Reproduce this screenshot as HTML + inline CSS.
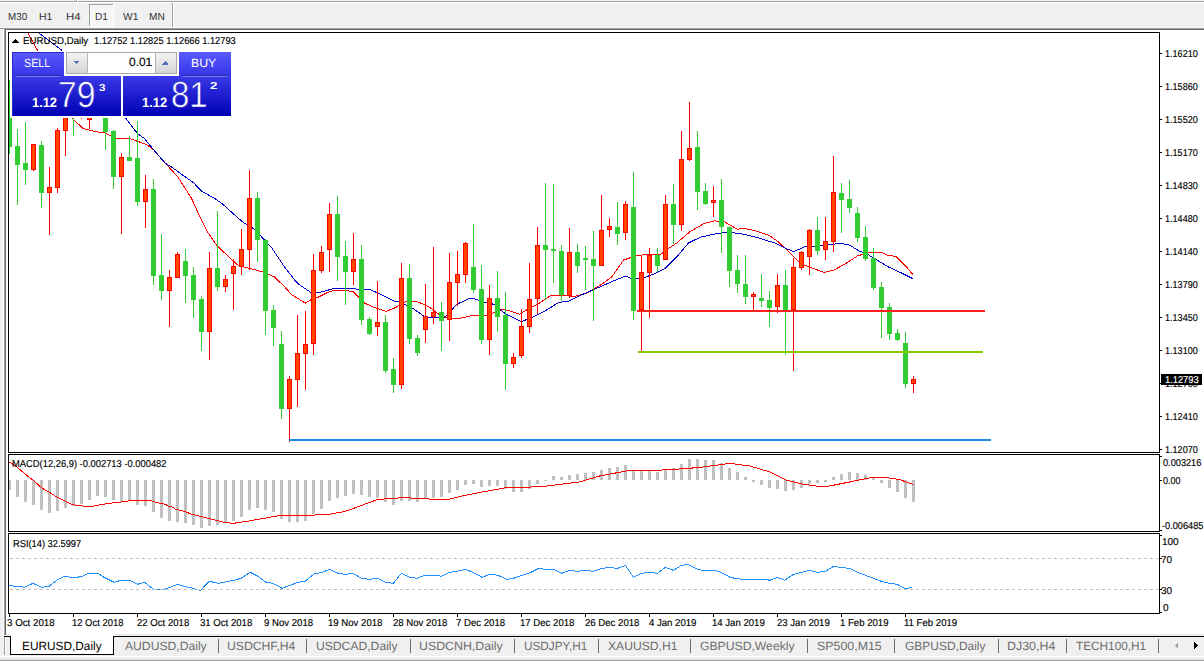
<!DOCTYPE html>
<html><head><meta charset="utf-8"><style>
html,body{margin:0;padding:0;}
body{width:1204px;height:663px;overflow:hidden;background:#f0f0f0;position:relative;font-family:"Liberation Sans",sans-serif;}
svg{position:absolute;left:0;top:0;}
.t{position:absolute;white-space:nowrap;line-height:1;transform-origin:0 0;text-rendering:geometricPrecision;}
.k{-webkit-text-stroke:0.15px currentColor;}
.thin{-webkit-text-stroke:0.6px #2424cc;}
</style></head><body>
<svg width="1204" height="663" viewBox="0 0 1204 663" shape-rendering="crispEdges">
<rect x="0" y="1" width="1204" height="1" fill="#a0a0a0"/>
<rect x="0" y="2" width="1204" height="1" fill="#ffffff"/>
<rect x="76" y="0" width="1" height="2" fill="#a0a0a0"/>
<rect x="77" y="0" width="1" height="2" fill="#ffffff"/>
<defs><pattern id="chk" x="0" y="0" width="2" height="2" patternUnits="userSpaceOnUse"><rect width="2" height="2" fill="#ffffff"/><rect x="1" y="0" width="1" height="1" fill="#ededed"/><rect x="0" y="1" width="1" height="1" fill="#ededed"/></pattern></defs>
<rect x="89" y="4" width="25" height="22" fill="url(#chk)"/>
<rect x="89" y="4" width="25" height="1" fill="#a0a0a0"/>
<rect x="89" y="4" width="1" height="22" fill="#a0a0a0"/>
<rect x="113" y="4" width="1" height="22" fill="#ffffff"/>
<rect x="89" y="26" width="25" height="1" fill="#ffffff"/>
<rect x="172" y="3" width="1" height="25" fill="#a0a0a0"/>
<rect x="173" y="3" width="1" height="25" fill="#ffffff"/>
<rect x="0" y="27" width="1204" height="1" fill="#f6f6f6"/>
<rect x="0" y="28" width="1204" height="1" fill="#a0a0a0"/>
<rect x="4" y="29" width="1200" height="1" fill="#696969"/>
<rect x="3" y="29" width="1" height="606" fill="#ffffff"/>
<rect x="4" y="28" width="1" height="607" fill="#a0a0a0"/>
<rect x="5" y="29" width="1" height="606" fill="#696969"/>
<rect x="6" y="30" width="1198" height="604" fill="#ffffff"/>
<rect x="6" y="634" width="1198" height="1" fill="#e3e3e3"/>
<rect x="8" y="32" width="1152" height="1" fill="#000"/><rect x="8" y="452" width="1152" height="1" fill="#000"/><rect x="8" y="32" width="1" height="421" fill="#000"/><rect x="1159" y="32" width="1" height="421" fill="#000"/>
<rect x="8" y="454" width="1152" height="1" fill="#000"/><rect x="8" y="531" width="1152" height="1" fill="#000"/><rect x="8" y="454" width="1" height="78" fill="#000"/><rect x="1159" y="454" width="1" height="78" fill="#000"/>
<rect x="8" y="533" width="1152" height="1" fill="#000"/><rect x="8" y="613" width="1152" height="1" fill="#000"/><rect x="8" y="533" width="1" height="81" fill="#000"/><rect x="1159" y="533" width="1" height="81" fill="#000"/>
<rect x="1160" y="53" width="2" height="1" fill="#000"/>
<rect x="1160" y="86" width="2" height="1" fill="#000"/>
<rect x="1160" y="119" width="2" height="1" fill="#000"/>
<rect x="1160" y="152" width="2" height="1" fill="#000"/>
<rect x="1160" y="185" width="2" height="1" fill="#000"/>
<rect x="1160" y="218" width="2" height="1" fill="#000"/>
<rect x="1160" y="251" width="2" height="1" fill="#000"/>
<rect x="1160" y="284" width="2" height="1" fill="#000"/>
<rect x="1160" y="317" width="2" height="1" fill="#000"/>
<rect x="1160" y="350" width="2" height="1" fill="#000"/>
<rect x="1160" y="383" width="2" height="1" fill="#000"/>
<rect x="1160" y="416" width="2" height="1" fill="#000"/>
<rect x="1160" y="449" width="2" height="1" fill="#000"/>
<rect x="1160" y="456" width="2" height="1" fill="#000"/>
<rect x="1160" y="480" width="2" height="1" fill="#000"/>
<rect x="1160" y="530" width="2" height="1" fill="#000"/>
<rect x="1160" y="535" width="2" height="1" fill="#000"/>
<rect x="1160" y="558" width="2" height="1" fill="#000"/>
<rect x="1160" y="589" width="2" height="1" fill="#000"/>
<rect x="1160" y="612" width="2" height="1" fill="#000"/>
<rect x="9" y="614" width="1" height="3" fill="#000"/>
<rect x="73" y="614" width="1" height="3" fill="#000"/>
<rect x="137" y="614" width="1" height="3" fill="#000"/>
<rect x="201" y="614" width="1" height="3" fill="#000"/>
<rect x="265" y="614" width="1" height="3" fill="#000"/>
<rect x="329" y="614" width="1" height="3" fill="#000"/>
<rect x="393" y="614" width="1" height="3" fill="#000"/>
<rect x="457" y="614" width="1" height="3" fill="#000"/>
<rect x="521" y="614" width="1" height="3" fill="#000"/>
<rect x="585" y="614" width="1" height="3" fill="#000"/>
<rect x="649" y="614" width="1" height="3" fill="#000"/>
<rect x="713" y="614" width="1" height="3" fill="#000"/>
<rect x="777" y="614" width="1" height="3" fill="#000"/>
<rect x="841" y="614" width="1" height="3" fill="#000"/>
<rect x="905" y="614" width="1" height="3" fill="#000"/>
<defs><clipPath id="cm"><rect x="9" y="33" width="1150" height="419"/></clipPath><clipPath id="cd"><rect x="9" y="455" width="1150" height="76"/></clipPath><clipPath id="cr"><rect x="9" y="534" width="1150" height="79"/></clipPath></defs>
<g clip-path="url(#cm)">
<polyline points="28.0,33.0 36.9,49.4 55.0,85.0 71.7,118.0 83.4,128.7 95.0,131.6 105.0,133.0 116.8,138.5 124.8,138.5 130.7,139.0 146.4,144.4 154.2,150.3 166.0,164.0 177.7,176.7 191.5,198.3 201.3,219.9 207.2,231.6 217.0,245.7 232.6,260.4 238.7,265.9 246.6,267.5 262.3,271.8 274.0,276.7 283.8,285.9 291.7,294.7 305.4,303.1 311.3,299.6 317.2,297.6 327.0,292.7 334.8,290.2 352.6,291.2 364.4,303.0 374.2,307.5 386.0,311.4 395.8,307.5 405.6,301.6 417.4,301.6 429.0,306.9 440.9,315.7 450.7,318.6 456.8,319.0 472.5,315.5 486.2,315.5 503.8,309.2 519.5,314.1 531.3,307.3 539.0,303.3 550.9,295.5 560.7,295.5 574.6,296.3 586.4,293.3 600.0,285.5 611.9,276.7 623.6,260.0 637.4,255.3 647.2,254.7 660.9,254.3 665.0,250.9 676.8,243.0 690.5,231.3 704.2,223.4 714.0,220.9 723.8,221.5 737.5,229.3 743.4,228.3 755.2,230.7 768.9,235.2 778.7,242.1 786.8,250.0 800.5,263.7 810.3,267.3 824.0,272.5 833.8,270.0 845.6,263.7 857.4,255.9 869.5,252.4 882.2,252.4 887.5,255.1 895.9,256.6 906.5,267.0 912.8,274.6" fill="none" stroke="#ff0000" stroke-width="1" stroke-linejoin="round"/>
<polyline points="38.9,33.0 60.8,49.4 93.0,84.0 125.8,118.3 137.5,133.6 144.4,138.5 153.2,149.3 165.0,163.0 171.9,167.3 185.6,177.1 193.4,182.6 201.3,190.9 215.0,198.7 222.8,204.2 236.8,216.9 243.6,222.7 253.4,228.6 260.3,235.5 272.0,248.2 283.8,265.9 294.6,280.0 299.5,284.9 311.3,292.7 319.0,292.7 332.8,288.8 345.0,288.8 350.7,288.6 358.5,289.2 370.3,289.6 380.0,294.0 393.8,301.0 399.7,302.0 413.4,308.8 423.2,315.7 429.0,317.3 444.8,317.3 456.8,304.3 468.5,298.8 474.4,298.8 484.2,302.4 494.0,304.3 505.8,314.1 521.5,321.6 533.2,317.0 547.0,309.8 558.7,302.4 568.7,301.2 580.5,295.3 594.2,289.4 611.9,281.6 625.6,276.1 633.4,279.2 645.2,277.3 657.0,272.7 664.8,268.8 676.8,256.8 688.5,243.0 700.3,237.2 714.0,234.2 727.7,231.9 743.4,234.2 759.1,238.1 774.8,243.0 784.8,248.0 793.6,251.6 804.4,247.0 814.2,246.1 833.8,244.1 841.7,243.5 849.5,245.1 859.3,251.0 868.4,254.8 876.9,260.1 888.5,267.0 902.2,273.3 912.8,278.6" fill="none" stroke="#0000cd" stroke-width="1" stroke-linejoin="round"/>
<rect x="9" y="80" width="1" height="74" fill="#32cd32"/>
<rect x="7" y="118" width="5" height="29" fill="#32cd32"/>
<rect x="17" y="129" width="1" height="76" fill="#32cd32"/>
<rect x="15" y="146" width="5" height="19" fill="#32cd32"/>
<rect x="25" y="122" width="1" height="63" fill="#32cd32"/>
<rect x="23" y="163" width="5" height="7" fill="#32cd32"/>
<rect x="33" y="144" width="1" height="27" fill="#ff0000"/>
<rect x="31" y="144" width="5" height="26" fill="#ff0000"/>
<rect x="32" y="145" width="3" height="24" fill="#ff4500"/>
<rect x="41" y="141" width="1" height="67" fill="#32cd32"/>
<rect x="39" y="145" width="5" height="48" fill="#32cd32"/>
<rect x="49" y="167" width="1" height="68" fill="#ff0000"/>
<rect x="47" y="187" width="5" height="6" fill="#ff0000"/>
<rect x="48" y="188" width="3" height="4" fill="#ff4500"/>
<rect x="57" y="128" width="1" height="65" fill="#ff0000"/>
<rect x="55" y="130" width="5" height="58" fill="#ff0000"/>
<rect x="56" y="131" width="3" height="56" fill="#ff4500"/>
<rect x="65" y="100" width="1" height="56" fill="#ff0000"/>
<rect x="63" y="110" width="5" height="21" fill="#ff0000"/>
<rect x="64" y="111" width="3" height="19" fill="#ff4500"/>
<rect x="73" y="95" width="1" height="41" fill="#32cd32"/>
<rect x="71" y="100" width="5" height="15" fill="#32cd32"/>
<rect x="81" y="105" width="1" height="14" fill="#ff0000"/>
<rect x="79" y="110" width="5" height="6" fill="#ff0000"/>
<rect x="80" y="111" width="3" height="4" fill="#ff4500"/>
<rect x="89" y="105" width="1" height="24" fill="#ff0000"/>
<rect x="87" y="110" width="5" height="10" fill="#ff0000"/>
<rect x="88" y="111" width="3" height="8" fill="#ff4500"/>
<rect x="97" y="90" width="1" height="20" fill="#32cd32"/>
<rect x="95" y="95" width="5" height="10" fill="#32cd32"/>
<rect x="105" y="100" width="1" height="50" fill="#32cd32"/>
<rect x="103" y="110" width="5" height="22" fill="#32cd32"/>
<rect x="113" y="130" width="1" height="59" fill="#32cd32"/>
<rect x="111" y="131" width="5" height="46" fill="#32cd32"/>
<rect x="121" y="153" width="1" height="81" fill="#ff0000"/>
<rect x="119" y="157" width="5" height="20" fill="#ff0000"/>
<rect x="120" y="158" width="3" height="18" fill="#ff4500"/>
<rect x="129" y="136" width="1" height="25" fill="#32cd32"/>
<rect x="127" y="157" width="5" height="4" fill="#32cd32"/>
<rect x="137" y="121" width="1" height="85" fill="#32cd32"/>
<rect x="135" y="158" width="5" height="44" fill="#32cd32"/>
<rect x="145" y="175" width="1" height="53" fill="#ff0000"/>
<rect x="143" y="189" width="5" height="13" fill="#ff0000"/>
<rect x="144" y="190" width="3" height="11" fill="#ff4500"/>
<rect x="153" y="179" width="1" height="106" fill="#32cd32"/>
<rect x="151" y="189" width="5" height="87" fill="#32cd32"/>
<rect x="161" y="234" width="1" height="66" fill="#32cd32"/>
<rect x="159" y="275" width="5" height="16" fill="#32cd32"/>
<rect x="169" y="270" width="1" height="57" fill="#ff0000"/>
<rect x="167" y="277" width="5" height="14" fill="#ff0000"/>
<rect x="168" y="278" width="3" height="12" fill="#ff4500"/>
<rect x="177" y="252" width="1" height="26" fill="#ff0000"/>
<rect x="175" y="254" width="5" height="24" fill="#ff0000"/>
<rect x="176" y="255" width="3" height="22" fill="#ff4500"/>
<rect x="185" y="249" width="1" height="54" fill="#32cd32"/>
<rect x="183" y="261" width="5" height="15" fill="#32cd32"/>
<rect x="193" y="267" width="1" height="51" fill="#32cd32"/>
<rect x="191" y="275" width="5" height="25" fill="#32cd32"/>
<rect x="201" y="296" width="1" height="55" fill="#32cd32"/>
<rect x="199" y="299" width="5" height="33" fill="#32cd32"/>
<rect x="209" y="252" width="1" height="108" fill="#ff0000"/>
<rect x="207" y="268" width="5" height="64" fill="#ff0000"/>
<rect x="208" y="269" width="3" height="62" fill="#ff4500"/>
<rect x="217" y="211" width="1" height="80" fill="#32cd32"/>
<rect x="215" y="268" width="5" height="19" fill="#32cd32"/>
<rect x="225" y="275" width="1" height="17" fill="#ff0000"/>
<rect x="223" y="279" width="5" height="8" fill="#ff0000"/>
<rect x="224" y="280" width="3" height="6" fill="#ff4500"/>
<rect x="233" y="259" width="1" height="51" fill="#ff0000"/>
<rect x="231" y="266" width="5" height="8" fill="#ff0000"/>
<rect x="232" y="267" width="3" height="6" fill="#ff4500"/>
<rect x="241" y="229" width="1" height="46" fill="#ff0000"/>
<rect x="239" y="249" width="5" height="18" fill="#ff0000"/>
<rect x="240" y="250" width="3" height="16" fill="#ff4500"/>
<rect x="249" y="170" width="1" height="100" fill="#ff0000"/>
<rect x="247" y="198" width="5" height="52" fill="#ff0000"/>
<rect x="248" y="199" width="3" height="50" fill="#ff4500"/>
<rect x="257" y="192" width="1" height="70" fill="#32cd32"/>
<rect x="255" y="198" width="5" height="42" fill="#32cd32"/>
<rect x="265" y="239" width="1" height="96" fill="#32cd32"/>
<rect x="263" y="240" width="5" height="71" fill="#32cd32"/>
<rect x="273" y="305" width="1" height="41" fill="#32cd32"/>
<rect x="271" y="310" width="5" height="18" fill="#32cd32"/>
<rect x="281" y="331" width="1" height="88" fill="#32cd32"/>
<rect x="279" y="344" width="5" height="65" fill="#32cd32"/>
<rect x="289" y="376" width="1" height="66" fill="#ff0000"/>
<rect x="287" y="379" width="5" height="30" fill="#ff0000"/>
<rect x="288" y="380" width="3" height="28" fill="#ff4500"/>
<rect x="297" y="315" width="1" height="92" fill="#ff0000"/>
<rect x="295" y="353" width="5" height="27" fill="#ff0000"/>
<rect x="296" y="354" width="3" height="25" fill="#ff4500"/>
<rect x="305" y="311" width="1" height="79" fill="#ff0000"/>
<rect x="303" y="344" width="5" height="10" fill="#ff0000"/>
<rect x="304" y="345" width="3" height="8" fill="#ff4500"/>
<rect x="313" y="254" width="1" height="101" fill="#ff0000"/>
<rect x="311" y="270" width="5" height="74" fill="#ff0000"/>
<rect x="312" y="271" width="3" height="72" fill="#ff4500"/>
<rect x="321" y="246" width="1" height="27" fill="#ff0000"/>
<rect x="319" y="252" width="5" height="19" fill="#ff0000"/>
<rect x="320" y="253" width="3" height="17" fill="#ff4500"/>
<rect x="329" y="203" width="1" height="69" fill="#ff0000"/>
<rect x="327" y="214" width="5" height="36" fill="#ff0000"/>
<rect x="328" y="215" width="3" height="34" fill="#ff4500"/>
<rect x="337" y="196" width="1" height="85" fill="#32cd32"/>
<rect x="335" y="214" width="5" height="43" fill="#32cd32"/>
<rect x="345" y="241" width="1" height="64" fill="#32cd32"/>
<rect x="343" y="256" width="5" height="16" fill="#32cd32"/>
<rect x="353" y="233" width="1" height="52" fill="#ff0000"/>
<rect x="351" y="259" width="5" height="13" fill="#ff0000"/>
<rect x="352" y="260" width="3" height="11" fill="#ff4500"/>
<rect x="361" y="245" width="1" height="80" fill="#32cd32"/>
<rect x="359" y="259" width="5" height="61" fill="#32cd32"/>
<rect x="369" y="317" width="1" height="18" fill="#32cd32"/>
<rect x="367" y="319" width="5" height="15" fill="#32cd32"/>
<rect x="377" y="281" width="1" height="55" fill="#ff0000"/>
<rect x="375" y="322" width="5" height="5" fill="#ff0000"/>
<rect x="376" y="323" width="3" height="3" fill="#ff4500"/>
<rect x="385" y="315" width="1" height="58" fill="#32cd32"/>
<rect x="383" y="322" width="5" height="49" fill="#32cd32"/>
<rect x="393" y="358" width="1" height="35" fill="#32cd32"/>
<rect x="391" y="369" width="5" height="16" fill="#32cd32"/>
<rect x="401" y="263" width="1" height="126" fill="#ff0000"/>
<rect x="399" y="278" width="5" height="107" fill="#ff0000"/>
<rect x="400" y="279" width="3" height="105" fill="#ff4500"/>
<rect x="409" y="264" width="1" height="80" fill="#32cd32"/>
<rect x="407" y="278" width="5" height="61" fill="#32cd32"/>
<rect x="417" y="335" width="1" height="21" fill="#32cd32"/>
<rect x="415" y="338" width="5" height="15" fill="#32cd32"/>
<rect x="425" y="284" width="1" height="59" fill="#ff0000"/>
<rect x="423" y="316" width="5" height="14" fill="#ff0000"/>
<rect x="424" y="317" width="3" height="12" fill="#ff4500"/>
<rect x="433" y="247" width="1" height="77" fill="#ff0000"/>
<rect x="431" y="312" width="5" height="5" fill="#ff0000"/>
<rect x="432" y="313" width="3" height="3" fill="#ff4500"/>
<rect x="441" y="302" width="1" height="49" fill="#32cd32"/>
<rect x="439" y="312" width="5" height="9" fill="#32cd32"/>
<rect x="449" y="253" width="1" height="88" fill="#ff0000"/>
<rect x="447" y="282" width="5" height="38" fill="#ff0000"/>
<rect x="448" y="283" width="3" height="36" fill="#ff4500"/>
<rect x="457" y="251" width="1" height="55" fill="#ff0000"/>
<rect x="455" y="274" width="5" height="9" fill="#ff0000"/>
<rect x="456" y="275" width="3" height="7" fill="#ff4500"/>
<rect x="465" y="242" width="1" height="41" fill="#ff0000"/>
<rect x="463" y="243" width="5" height="32" fill="#ff0000"/>
<rect x="464" y="244" width="3" height="30" fill="#ff4500"/>
<rect x="473" y="224" width="1" height="69" fill="#32cd32"/>
<rect x="471" y="267" width="5" height="23" fill="#32cd32"/>
<rect x="481" y="265" width="1" height="79" fill="#32cd32"/>
<rect x="479" y="289" width="5" height="51" fill="#32cd32"/>
<rect x="489" y="285" width="1" height="70" fill="#ff0000"/>
<rect x="487" y="298" width="5" height="42" fill="#ff0000"/>
<rect x="488" y="299" width="3" height="40" fill="#ff4500"/>
<rect x="497" y="271" width="1" height="61" fill="#32cd32"/>
<rect x="495" y="298" width="5" height="19" fill="#32cd32"/>
<rect x="505" y="292" width="1" height="98" fill="#32cd32"/>
<rect x="503" y="315" width="5" height="49" fill="#32cd32"/>
<rect x="513" y="353" width="1" height="15" fill="#ff0000"/>
<rect x="511" y="357" width="5" height="7" fill="#ff0000"/>
<rect x="512" y="358" width="3" height="5" fill="#ff4500"/>
<rect x="521" y="309" width="1" height="49" fill="#ff0000"/>
<rect x="519" y="326" width="5" height="30" fill="#ff0000"/>
<rect x="520" y="327" width="3" height="28" fill="#ff4500"/>
<rect x="529" y="263" width="1" height="70" fill="#ff0000"/>
<rect x="527" y="299" width="5" height="28" fill="#ff0000"/>
<rect x="528" y="300" width="3" height="26" fill="#ff4500"/>
<rect x="537" y="227" width="1" height="87" fill="#ff0000"/>
<rect x="535" y="245" width="5" height="54" fill="#ff0000"/>
<rect x="536" y="246" width="3" height="52" fill="#ff4500"/>
<rect x="545" y="183" width="1" height="117" fill="#32cd32"/>
<rect x="543" y="245" width="5" height="5" fill="#32cd32"/>
<rect x="553" y="184" width="1" height="99" fill="#32cd32"/>
<rect x="551" y="249" width="5" height="2" fill="#32cd32"/>
<rect x="561" y="245" width="1" height="56" fill="#32cd32"/>
<rect x="559" y="251" width="5" height="44" fill="#32cd32"/>
<rect x="569" y="228" width="1" height="70" fill="#ff0000"/>
<rect x="567" y="252" width="5" height="44" fill="#ff0000"/>
<rect x="568" y="253" width="3" height="42" fill="#ff4500"/>
<rect x="577" y="244" width="1" height="29" fill="#32cd32"/>
<rect x="575" y="252" width="5" height="14" fill="#32cd32"/>
<rect x="585" y="246" width="1" height="44" fill="#32cd32"/>
<rect x="583" y="258" width="5" height="2" fill="#32cd32"/>
<rect x="593" y="231" width="1" height="90" fill="#32cd32"/>
<rect x="591" y="259" width="5" height="7" fill="#32cd32"/>
<rect x="601" y="195" width="1" height="71" fill="#ff0000"/>
<rect x="599" y="230" width="5" height="36" fill="#ff0000"/>
<rect x="600" y="231" width="3" height="34" fill="#ff4500"/>
<rect x="609" y="218" width="1" height="19" fill="#ff0000"/>
<rect x="607" y="226" width="5" height="4" fill="#ff0000"/>
<rect x="608" y="227" width="3" height="2" fill="#ff4500"/>
<rect x="617" y="202" width="1" height="43" fill="#32cd32"/>
<rect x="615" y="227" width="5" height="7" fill="#32cd32"/>
<rect x="625" y="201" width="1" height="39" fill="#ff0000"/>
<rect x="623" y="204" width="5" height="29" fill="#ff0000"/>
<rect x="624" y="205" width="3" height="27" fill="#ff4500"/>
<rect x="633" y="172" width="1" height="148" fill="#32cd32"/>
<rect x="631" y="207" width="5" height="104" fill="#32cd32"/>
<rect x="641" y="256" width="1" height="96" fill="#ff0000"/>
<rect x="639" y="272" width="5" height="38" fill="#ff0000"/>
<rect x="640" y="273" width="3" height="36" fill="#ff4500"/>
<rect x="649" y="248" width="1" height="70" fill="#ff0000"/>
<rect x="647" y="255" width="5" height="18" fill="#ff0000"/>
<rect x="648" y="256" width="3" height="16" fill="#ff4500"/>
<rect x="657" y="248" width="1" height="24" fill="#32cd32"/>
<rect x="655" y="255" width="5" height="11" fill="#32cd32"/>
<rect x="665" y="195" width="1" height="65" fill="#ff0000"/>
<rect x="663" y="204" width="5" height="56" fill="#ff0000"/>
<rect x="664" y="205" width="3" height="54" fill="#ff4500"/>
<rect x="673" y="184" width="1" height="60" fill="#32cd32"/>
<rect x="671" y="204" width="5" height="21" fill="#32cd32"/>
<rect x="681" y="131" width="1" height="100" fill="#ff0000"/>
<rect x="679" y="159" width="5" height="66" fill="#ff0000"/>
<rect x="680" y="160" width="3" height="64" fill="#ff4500"/>
<rect x="689" y="102" width="1" height="59" fill="#ff0000"/>
<rect x="687" y="148" width="5" height="12" fill="#ff0000"/>
<rect x="688" y="149" width="3" height="10" fill="#ff4500"/>
<rect x="697" y="131" width="1" height="79" fill="#32cd32"/>
<rect x="695" y="147" width="5" height="45" fill="#32cd32"/>
<rect x="705" y="183" width="1" height="22" fill="#32cd32"/>
<rect x="703" y="191" width="5" height="13" fill="#32cd32"/>
<rect x="713" y="186" width="1" height="31" fill="#ff0000"/>
<rect x="711" y="200" width="5" height="3" fill="#ff0000"/>
<rect x="712" y="201" width="3" height="1" fill="#ff4500"/>
<rect x="721" y="179" width="1" height="74" fill="#32cd32"/>
<rect x="719" y="200" width="5" height="27" fill="#32cd32"/>
<rect x="729" y="227" width="1" height="60" fill="#32cd32"/>
<rect x="727" y="227" width="5" height="44" fill="#32cd32"/>
<rect x="737" y="255" width="1" height="38" fill="#32cd32"/>
<rect x="735" y="270" width="5" height="14" fill="#32cd32"/>
<rect x="745" y="255" width="1" height="49" fill="#32cd32"/>
<rect x="743" y="284" width="5" height="13" fill="#32cd32"/>
<rect x="753" y="292" width="1" height="18" fill="#ff0000"/>
<rect x="751" y="294" width="5" height="3" fill="#ff0000"/>
<rect x="752" y="295" width="3" height="1" fill="#ff4500"/>
<rect x="761" y="274" width="1" height="33" fill="#32cd32"/>
<rect x="759" y="298" width="5" height="3" fill="#32cd32"/>
<rect x="769" y="291" width="1" height="36" fill="#32cd32"/>
<rect x="767" y="300" width="5" height="8" fill="#32cd32"/>
<rect x="777" y="274" width="1" height="39" fill="#ff0000"/>
<rect x="775" y="285" width="5" height="22" fill="#ff0000"/>
<rect x="776" y="286" width="3" height="20" fill="#ff4500"/>
<rect x="785" y="270" width="1" height="85" fill="#32cd32"/>
<rect x="783" y="285" width="5" height="25" fill="#32cd32"/>
<rect x="793" y="258" width="1" height="113" fill="#ff0000"/>
<rect x="791" y="267" width="5" height="43" fill="#ff0000"/>
<rect x="792" y="268" width="3" height="41" fill="#ff4500"/>
<rect x="801" y="251" width="1" height="19" fill="#ff0000"/>
<rect x="799" y="252" width="5" height="16" fill="#ff0000"/>
<rect x="800" y="253" width="3" height="14" fill="#ff4500"/>
<rect x="809" y="229" width="1" height="46" fill="#ff0000"/>
<rect x="807" y="230" width="5" height="27" fill="#ff0000"/>
<rect x="808" y="231" width="3" height="25" fill="#ff4500"/>
<rect x="817" y="217" width="1" height="38" fill="#32cd32"/>
<rect x="815" y="230" width="5" height="21" fill="#32cd32"/>
<rect x="825" y="217" width="1" height="43" fill="#ff0000"/>
<rect x="823" y="241" width="5" height="9" fill="#ff0000"/>
<rect x="824" y="242" width="3" height="7" fill="#ff4500"/>
<rect x="833" y="156" width="1" height="96" fill="#ff0000"/>
<rect x="831" y="192" width="5" height="50" fill="#ff0000"/>
<rect x="832" y="193" width="3" height="48" fill="#ff4500"/>
<rect x="841" y="183" width="1" height="50" fill="#32cd32"/>
<rect x="839" y="193" width="5" height="7" fill="#32cd32"/>
<rect x="849" y="180" width="1" height="33" fill="#32cd32"/>
<rect x="847" y="199" width="5" height="9" fill="#32cd32"/>
<rect x="857" y="207" width="1" height="35" fill="#32cd32"/>
<rect x="855" y="213" width="5" height="25" fill="#32cd32"/>
<rect x="865" y="226" width="1" height="35" fill="#32cd32"/>
<rect x="863" y="237" width="5" height="22" fill="#32cd32"/>
<rect x="873" y="248" width="1" height="42" fill="#32cd32"/>
<rect x="871" y="258" width="5" height="30" fill="#32cd32"/>
<rect x="881" y="282" width="1" height="56" fill="#32cd32"/>
<rect x="879" y="287" width="5" height="21" fill="#32cd32"/>
<rect x="889" y="303" width="1" height="37" fill="#32cd32"/>
<rect x="887" y="307" width="5" height="27" fill="#32cd32"/>
<rect x="897" y="329" width="1" height="12" fill="#32cd32"/>
<rect x="895" y="333" width="5" height="7" fill="#32cd32"/>
<rect x="905" y="332" width="1" height="56" fill="#32cd32"/>
<rect x="903" y="343" width="5" height="41" fill="#32cd32"/>
<rect x="913" y="376" width="1" height="17" fill="#ff0000"/>
<rect x="911" y="379" width="5" height="5" fill="#ff0000"/>
<rect x="912" y="380" width="3" height="3" fill="#ff4500"/>
<rect x="637" y="310" width="348" height="2" fill="#ff2020"/>
<rect x="638" y="351" width="345" height="2" fill="#8cc800"/>
<rect x="289" y="439" width="702" height="2" fill="#1e88e5"/>
</g>
<g clip-path="url(#cd)">
<rect x="8" y="480" width="3" height="10" fill="#c0c0c0"/>
<rect x="16" y="480" width="3" height="17" fill="#c0c0c0"/>
<rect x="24" y="480" width="3" height="22" fill="#c0c0c0"/>
<rect x="32" y="480" width="3" height="25" fill="#c0c0c0"/>
<rect x="40" y="480" width="3" height="30" fill="#c0c0c0"/>
<rect x="48" y="480" width="3" height="33" fill="#c0c0c0"/>
<rect x="56" y="480" width="3" height="31" fill="#c0c0c0"/>
<rect x="64" y="480" width="3" height="28" fill="#c0c0c0"/>
<rect x="72" y="480" width="3" height="26" fill="#c0c0c0"/>
<rect x="80" y="480" width="3" height="24" fill="#c0c0c0"/>
<rect x="88" y="480" width="3" height="20" fill="#c0c0c0"/>
<rect x="96" y="480" width="3" height="16" fill="#c0c0c0"/>
<rect x="104" y="480" width="3" height="17" fill="#c0c0c0"/>
<rect x="112" y="480" width="3" height="20" fill="#c0c0c0"/>
<rect x="120" y="480" width="3" height="21" fill="#c0c0c0"/>
<rect x="128" y="480" width="3" height="21" fill="#c0c0c0"/>
<rect x="136" y="480" width="3" height="25" fill="#c0c0c0"/>
<rect x="144" y="480" width="3" height="26" fill="#c0c0c0"/>
<rect x="152" y="480" width="3" height="32" fill="#c0c0c0"/>
<rect x="160" y="480" width="3" height="38" fill="#c0c0c0"/>
<rect x="168" y="480" width="3" height="41" fill="#c0c0c0"/>
<rect x="176" y="480" width="3" height="42" fill="#c0c0c0"/>
<rect x="184" y="480" width="3" height="43" fill="#c0c0c0"/>
<rect x="192" y="480" width="3" height="45" fill="#c0c0c0"/>
<rect x="200" y="480" width="3" height="48" fill="#c0c0c0"/>
<rect x="208" y="480" width="3" height="46" fill="#c0c0c0"/>
<rect x="216" y="480" width="3" height="45" fill="#c0c0c0"/>
<rect x="224" y="480" width="3" height="43" fill="#c0c0c0"/>
<rect x="232" y="480" width="3" height="41" fill="#c0c0c0"/>
<rect x="240" y="480" width="3" height="37" fill="#c0c0c0"/>
<rect x="248" y="480" width="3" height="30" fill="#c0c0c0"/>
<rect x="256" y="480" width="3" height="28" fill="#c0c0c0"/>
<rect x="264" y="480" width="3" height="30" fill="#c0c0c0"/>
<rect x="272" y="480" width="3" height="32" fill="#c0c0c0"/>
<rect x="280" y="480" width="3" height="39" fill="#c0c0c0"/>
<rect x="288" y="480" width="3" height="42" fill="#c0c0c0"/>
<rect x="296" y="480" width="3" height="42" fill="#c0c0c0"/>
<rect x="304" y="480" width="3" height="41" fill="#c0c0c0"/>
<rect x="312" y="480" width="3" height="34" fill="#c0c0c0"/>
<rect x="320" y="480" width="3" height="29" fill="#c0c0c0"/>
<rect x="328" y="480" width="3" height="21" fill="#c0c0c0"/>
<rect x="336" y="480" width="3" height="18" fill="#c0c0c0"/>
<rect x="344" y="480" width="3" height="16" fill="#c0c0c0"/>
<rect x="352" y="480" width="3" height="14" fill="#c0c0c0"/>
<rect x="360" y="480" width="3" height="15" fill="#c0c0c0"/>
<rect x="368" y="480" width="3" height="17" fill="#c0c0c0"/>
<rect x="376" y="480" width="3" height="18" fill="#c0c0c0"/>
<rect x="384" y="480" width="3" height="22" fill="#c0c0c0"/>
<rect x="392" y="480" width="3" height="25" fill="#c0c0c0"/>
<rect x="400" y="480" width="3" height="21" fill="#c0c0c0"/>
<rect x="408" y="480" width="3" height="21" fill="#c0c0c0"/>
<rect x="416" y="480" width="3" height="22" fill="#c0c0c0"/>
<rect x="424" y="480" width="3" height="19" fill="#c0c0c0"/>
<rect x="432" y="480" width="3" height="18" fill="#c0c0c0"/>
<rect x="440" y="480" width="3" height="17" fill="#c0c0c0"/>
<rect x="448" y="480" width="3" height="13" fill="#c0c0c0"/>
<rect x="456" y="480" width="3" height="10" fill="#c0c0c0"/>
<rect x="464" y="480" width="3" height="5" fill="#c0c0c0"/>
<rect x="472" y="480" width="3" height="4" fill="#c0c0c0"/>
<rect x="480" y="480" width="3" height="7" fill="#c0c0c0"/>
<rect x="488" y="480" width="3" height="6" fill="#c0c0c0"/>
<rect x="496" y="480" width="3" height="6" fill="#c0c0c0"/>
<rect x="504" y="480" width="3" height="9" fill="#c0c0c0"/>
<rect x="512" y="480" width="3" height="12" fill="#c0c0c0"/>
<rect x="520" y="480" width="3" height="12" fill="#c0c0c0"/>
<rect x="528" y="480" width="3" height="9" fill="#c0c0c0"/>
<rect x="536" y="480" width="3" height="4" fill="#c0c0c0"/>
<rect x="544" y="480" width="3" height="1" fill="#c0c0c0"/>
<rect x="552" y="476" width="3" height="4" fill="#c0c0c0"/>
<rect x="560" y="477" width="3" height="3" fill="#c0c0c0"/>
<rect x="568" y="475" width="3" height="5" fill="#c0c0c0"/>
<rect x="576" y="474" width="3" height="6" fill="#c0c0c0"/>
<rect x="584" y="473" width="3" height="7" fill="#c0c0c0"/>
<rect x="592" y="472" width="3" height="8" fill="#c0c0c0"/>
<rect x="600" y="470" width="3" height="10" fill="#c0c0c0"/>
<rect x="608" y="468" width="3" height="12" fill="#c0c0c0"/>
<rect x="616" y="467" width="3" height="13" fill="#c0c0c0"/>
<rect x="624" y="465" width="3" height="15" fill="#c0c0c0"/>
<rect x="632" y="471" width="3" height="9" fill="#c0c0c0"/>
<rect x="640" y="471" width="3" height="9" fill="#c0c0c0"/>
<rect x="648" y="471" width="3" height="9" fill="#c0c0c0"/>
<rect x="656" y="472" width="3" height="8" fill="#c0c0c0"/>
<rect x="664" y="470" width="3" height="10" fill="#c0c0c0"/>
<rect x="672" y="468" width="3" height="12" fill="#c0c0c0"/>
<rect x="680" y="464" width="3" height="16" fill="#c0c0c0"/>
<rect x="688" y="459" width="3" height="21" fill="#c0c0c0"/>
<rect x="696" y="459" width="3" height="21" fill="#c0c0c0"/>
<rect x="704" y="460" width="3" height="20" fill="#c0c0c0"/>
<rect x="712" y="460" width="3" height="20" fill="#c0c0c0"/>
<rect x="720" y="463" width="3" height="17" fill="#c0c0c0"/>
<rect x="728" y="468" width="3" height="12" fill="#c0c0c0"/>
<rect x="736" y="472" width="3" height="8" fill="#c0c0c0"/>
<rect x="744" y="477" width="3" height="3" fill="#c0c0c0"/>
<rect x="752" y="480" width="3" height="2" fill="#c0c0c0"/>
<rect x="760" y="480" width="3" height="5" fill="#c0c0c0"/>
<rect x="768" y="480" width="3" height="8" fill="#c0c0c0"/>
<rect x="776" y="480" width="3" height="9" fill="#c0c0c0"/>
<rect x="784" y="480" width="3" height="11" fill="#c0c0c0"/>
<rect x="792" y="480" width="3" height="10" fill="#c0c0c0"/>
<rect x="800" y="480" width="3" height="8" fill="#c0c0c0"/>
<rect x="808" y="480" width="3" height="4" fill="#c0c0c0"/>
<rect x="816" y="480" width="3" height="3" fill="#c0c0c0"/>
<rect x="824" y="480" width="3" height="2" fill="#c0c0c0"/>
<rect x="832" y="477" width="3" height="3" fill="#c0c0c0"/>
<rect x="840" y="474" width="3" height="6" fill="#c0c0c0"/>
<rect x="848" y="472" width="3" height="8" fill="#c0c0c0"/>
<rect x="856" y="473" width="3" height="7" fill="#c0c0c0"/>
<rect x="864" y="475" width="3" height="5" fill="#c0c0c0"/>
<rect x="872" y="478" width="3" height="2" fill="#c0c0c0"/>
<rect x="880" y="480" width="3" height="3" fill="#c0c0c0"/>
<rect x="888" y="480" width="3" height="8" fill="#c0c0c0"/>
<rect x="896" y="480" width="3" height="12" fill="#c0c0c0"/>
<rect x="904" y="480" width="3" height="18" fill="#c0c0c0"/>
<rect x="912" y="480" width="3" height="22" fill="#c0c0c0"/>
<polyline points="8.9,461.9 14.8,465.3 24.6,473.6 33.4,480.5 42.3,488.3 50.1,492.7 57.9,497.6 65.8,501.6 72.7,504.6 78.1,505.5 86.0,506.4 92.6,506.4 101.0,504.6 108.9,503.4 117.0,502.5 125.0,501.4 133.3,500.3 149.9,500.3 156.5,502.4 160.7,503.4 165.6,504.4 168.1,506.3 173.1,507.3 175.6,509.2 183.9,511.3 192.2,514.4 207.0,518.0 223.0,522.0 233.0,523.4 250.0,520.8 278.0,515.8 308.0,515.4 330.0,514.2 345.6,511.3 377.5,499.5 405.4,497.5 421.3,498.9 449.3,499.3 460.0,496.5 470.0,494.3 508.0,487.3 540.0,486.9 579.6,481.9 599.5,476.0 627.4,470.8 659.3,470.2 685.2,468.6 700.0,467.4 710.0,466.0 730.0,463.4 750.0,466.0 770.0,472.0 785.7,480.0 801.6,484.0 817.6,486.3 829.5,486.0 849.5,482.0 869.4,478.0 885.3,477.5 899.3,479.5 913.2,484.5" fill="none" stroke="#ff0000" stroke-width="1" stroke-linejoin="round"/>
</g>
<g clip-path="url(#cr)">
<polyline points="9.0,585.3 15.0,586.3 20.0,586.3 24.0,587.3 33.0,583.3 42.0,587.3 49.0,586.3 58.0,579.3 65.0,576.3 71.0,577.3 77.0,577.3 82.0,576.3 89.0,573.3 98.0,573.3 104.0,577.3 114.0,582.3 121.0,580.3 130.0,580.3 137.5,584.3 144.5,582.3 153.5,589.3 163.4,589.3 167.4,588.3 177.4,584.3 184.4,586.3 191.3,587.9 200.3,590.5 209.3,581.3 218.3,583.3 228.2,581.3 234.0,580.3 241.0,578.3 250.0,572.3 258.0,576.3 266.0,582.3 273.0,583.3 282.0,588.3 290.0,585.3 298.0,582.3 305.0,581.3 314.0,574.0 322.0,572.3 330.0,569.4 338.0,573.3 345.6,574.3 352.6,573.3 361.6,578.3 369.5,579.3 377.5,578.3 385.5,582.3 393.4,583.3 401.4,573.3 409.4,577.3 417.4,578.3 424.3,575.3 437.3,575.3 441.3,576.3 449.3,572.3 457.2,571.3 465.2,569.4 473.0,572.3 482.0,577.3 490.0,574.3 498.0,575.3 506.8,579.3 513.8,578.3 521.8,575.3 528.8,573.3 538.7,568.4 545.7,569.4 553.7,569.4 561.7,573.3 569.6,570.3 577.6,571.3 585.6,570.3 593.5,571.3 601.5,568.4 609.5,567.4 617.5,568.4 625.4,565.4 633.4,577.3 641.4,573.3 649.4,572.3 657.3,573.3 665.3,567.4 673.3,570.3 681.3,565.4 688.2,564.4 697.0,569.0 702.0,570.3 715.0,570.3 721.0,572.3 730.0,577.3 735.0,578.3 742.0,579.3 765.7,579.3 769.7,580.3 777.7,577.3 784.7,580.3 793.6,574.3 801.6,572.3 809.6,570.3 817.6,572.3 825.5,571.3 833.5,566.4 841.5,567.4 849.5,568.4 857.4,572.3 865.4,575.3 873.4,578.3 881.3,581.3 889.3,583.3 897.3,584.3 905.3,588.9 912.2,587.3" fill="none" stroke="#1e90ff" stroke-width="1" stroke-linejoin="round"/>
<line x1="10" y1="558.5" x2="1159" y2="558.5" stroke="#c0c0c0" stroke-width="1" stroke-dasharray="3,3"/>
<line x1="10" y1="589.5" x2="1159" y2="589.5" stroke="#c0c0c0" stroke-width="1" stroke-dasharray="3,3"/>
</g>
<defs>
<linearGradient id="gs" x1="0" y1="0" x2="0" y2="1"><stop offset="0" stop-color="#5a5aff"/><stop offset="1" stop-color="#3535e6"/></linearGradient>
<linearGradient id="gb" x1="0" y1="0" x2="0" y2="1"><stop offset="0" stop-color="#3a3ae8"/><stop offset="1" stop-color="#0000b4"/></linearGradient>
<linearGradient id="gbtn" x1="0" y1="0" x2="0" y2="1"><stop offset="0" stop-color="#f4f4f4"/><stop offset="1" stop-color="#d4d4d4"/></linearGradient>
</defs>
<rect x="12" y="51" width="220" height="67" fill="#ffffff"/>
<rect x="12" y="52" width="52" height="24" fill="url(#gs)"/>
<rect x="179" y="52" width="52" height="24" fill="url(#gs)"/>
<rect x="12" y="76" width="109" height="40" fill="url(#gb)"/>
<rect x="123" y="76" width="108" height="40" fill="url(#gb)"/>
<rect x="12" y="52" width="52" height="1" fill="#2a2ac8"/>
<rect x="12" y="52" width="1" height="64" fill="#2a2ac8"/>
<rect x="16" y="75" width="44" height="1" fill="#2828a8"/>
<rect x="16" y="76" width="44" height="1" fill="#7878f0"/>
<rect x="183" y="75" width="44" height="1" fill="#2828a8"/>
<rect x="183" y="76" width="44" height="1" fill="#7878f0"/>
<rect x="64" y="52" width="115" height="24" fill="#ffffff"/>
<rect x="66" y="52" width="111" height="22" fill="#a8a8a8"/>
<rect x="67" y="53" width="109" height="20" fill="#ffffff"/>
<rect x="67" y="53" width="20" height="20" fill="url(#gbtn)"/>
<rect x="87" y="53" width="1" height="20" fill="#b4b4b4"/>
<rect x="156" y="53" width="20" height="20" fill="url(#gbtn)"/>
<rect x="155" y="53" width="1" height="20" fill="#b4b4b4"/>
<polygon points="73.5,61 79.5,61 76.5,64.5" fill="#5a6ebe"/>
<polygon points="162.5,64.5 168.5,64.5 165.5,61" fill="#5a6ebe"/>
<rect x="0" y="635" width="1204" height="21" fill="#f0f0f0"/>
<rect x="4" y="636" width="7" height="1" fill="#000"/>
<rect x="113" y="636" width="1091" height="1" fill="#000"/>
<rect x="10" y="634" width="104" height="21" fill="#ffffff"/>
<rect x="10" y="636" width="1" height="19" fill="#000"/>
<rect x="113" y="636" width="1" height="19" fill="#000"/>
<rect x="10" y="654" width="104" height="1" fill="#000"/>
<rect x="4" y="637" width="1" height="18" fill="#a0a0a0"/>
<rect x="5" y="637" width="1" height="18" fill="#ffffff"/>
<rect x="0" y="656" width="1204" height="2" fill="#f8f8f8"/>
<rect x="0" y="658" width="1204" height="2" fill="#e6e6e6"/>
<rect x="0" y="660" width="1204" height="1" fill="#a0a0a0"/>
<rect x="0" y="661" width="1204" height="2" fill="#ffffff"/>
<rect x="218" y="639" width="1" height="14" fill="#6d6d6d"/>
<rect x="306" y="639" width="1" height="14" fill="#6d6d6d"/>
<rect x="410" y="639" width="1" height="14" fill="#6d6d6d"/>
<rect x="514" y="639" width="1" height="14" fill="#6d6d6d"/>
<rect x="598" y="639" width="1" height="14" fill="#6d6d6d"/>
<rect x="690" y="639" width="1" height="14" fill="#6d6d6d"/>
<rect x="807" y="639" width="1" height="14" fill="#6d6d6d"/>
<rect x="894" y="639" width="1" height="14" fill="#6d6d6d"/>
<rect x="998" y="639" width="1" height="14" fill="#6d6d6d"/>
<rect x="1066" y="639" width="1" height="14" fill="#6d6d6d"/>
<rect x="1158" y="639" width="1" height="14" fill="#6d6d6d"/>
<polygon points="1178,642 1178,649 1174.5,645.5" fill="#a0a0a0"/>
<polygon points="1194,642 1194,649 1197.5,645.5" fill="#000"/>
<polygon points="12,43 19,43 15.5,39" fill="#000"/>
</svg>
<div class="t" style="left:7.50px;top:13.00px;font-size:10px;color:#333333;font-weight:normal;transform:scale(0.9833,1.0286);z-index:2">M30</div>
<div class="t" style="left:38.60px;top:13.00px;font-size:10px;color:#333333;font-weight:normal;transform:scale(1.0455,1.0286);z-index:2">H1</div>
<div class="t" style="left:65.60px;top:13.00px;font-size:10px;color:#333333;font-weight:normal;transform:scale(1.1364,1.0286);z-index:2">H4</div>
<div class="t" style="left:94.80px;top:13.00px;font-size:10px;color:#333333;font-weight:normal;transform:scale(1.0091,1.0286);z-index:2">D1</div>
<div class="t" style="left:122.70px;top:13.00px;font-size:10px;color:#333333;font-weight:normal;transform:scale(1.0214,1.0286);z-index:2">W1</div>
<div class="t" style="left:149.00px;top:13.00px;font-size:10px;color:#333333;font-weight:normal;transform:scale(1.0143,1.0286);z-index:2">MN</div>
<div class="t k" style="left:23.00px;top:37.00px;font-size:10px;color:#000;font-weight:normal;transform:scale(0.9697,1.0000);z-index:2">EURUSD,Daily</div>
<div class="t k" style="left:94.00px;top:37.00px;font-size:10px;color:#000;font-weight:normal;transform:scale(0.9265,1.0000);z-index:2">1.12752 1.12825 1.12666 1.12793</div>
<div class="t k" style="left:1164.80px;top:50.00px;font-size:10px;color:#000;font-weight:normal;transform:scale(0.9057,1.0000);z-index:2">1.16210</div>
<div class="t k" style="left:1164.80px;top:83.00px;font-size:10px;color:#000;font-weight:normal;transform:scale(0.9057,1.0000);z-index:2">1.15860</div>
<div class="t k" style="left:1164.80px;top:116.00px;font-size:10px;color:#000;font-weight:normal;transform:scale(0.9057,1.0000);z-index:2">1.15520</div>
<div class="t k" style="left:1164.80px;top:149.00px;font-size:10px;color:#000;font-weight:normal;transform:scale(0.9057,1.0000);z-index:2">1.15170</div>
<div class="t k" style="left:1164.80px;top:182.00px;font-size:10px;color:#000;font-weight:normal;transform:scale(0.9057,1.0000);z-index:2">1.14830</div>
<div class="t k" style="left:1164.80px;top:215.00px;font-size:10px;color:#000;font-weight:normal;transform:scale(0.9057,1.0000);z-index:2">1.14480</div>
<div class="t k" style="left:1164.80px;top:248.00px;font-size:10px;color:#000;font-weight:normal;transform:scale(0.9057,1.0000);z-index:2">1.14140</div>
<div class="t k" style="left:1164.80px;top:281.00px;font-size:10px;color:#000;font-weight:normal;transform:scale(0.9057,1.0000);z-index:2">1.13790</div>
<div class="t k" style="left:1164.80px;top:314.00px;font-size:10px;color:#000;font-weight:normal;transform:scale(0.9057,1.0000);z-index:2">1.13450</div>
<div class="t k" style="left:1164.80px;top:347.00px;font-size:10px;color:#000;font-weight:normal;transform:scale(0.9057,1.0000);z-index:2">1.13100</div>
<div class="t k" style="left:1164.80px;top:380.00px;font-size:10px;color:#000;font-weight:normal;transform:scale(0.9057,1.0000);z-index:2">1.12760</div>
<div class="t k" style="left:1164.80px;top:413.00px;font-size:10px;color:#000;font-weight:normal;transform:scale(0.9057,1.0000);z-index:2">1.12410</div>
<div class="t k" style="left:1164.80px;top:446.00px;font-size:10px;color:#000;font-weight:normal;transform:scale(0.9057,1.0000);z-index:2">1.12070</div>
<div class="t k" style="left:12.40px;top:460.00px;font-size:10px;color:#000;font-weight:normal;transform:scale(0.9360,1.0000);z-index:2">MACD(12,26,9) -0.002713 -0.000482</div>
<div class="t k" style="left:12.60px;top:539.50px;font-size:10px;color:#000;font-weight:normal;transform:scale(0.9292,1.0000);z-index:2">RSI(14) 32.5997</div>
<div class="t k" style="left:1163.00px;top:459.00px;font-size:10px;color:#000;font-weight:normal;transform:scale(0.9195,1.0000);z-index:2">0.003216</div>
<div class="t k" style="left:1163.00px;top:477.00px;font-size:10px;color:#000;font-weight:normal;transform:scale(0.8947,1.0000);z-index:2">0.00</div>
<div class="t k" style="left:1162.00px;top:522.00px;font-size:10px;color:#000;font-weight:normal;transform:scale(0.9195,1.0000);z-index:2">-0.006485</div>
<div class="t k" style="left:1162.00px;top:538.00px;font-size:10px;color:#000;font-weight:normal;transform:scale(1.0000,1.0000);z-index:2">100</div>
<div class="t k" style="left:1161.00px;top:555.50px;font-size:10px;color:#000;font-weight:normal;transform:scale(1.0000,1.0000);z-index:2">70</div>
<div class="t k" style="left:1161.00px;top:586.50px;font-size:10px;color:#000;font-weight:normal;transform:scale(1.0000,1.0000);z-index:2">30</div>
<div class="t k" style="left:1163.00px;top:604.00px;font-size:10px;color:#000;font-weight:normal;transform:scale(1.0000,1.0000);z-index:2">0</div>
<div class="t k" style="left:6.90px;top:619.00px;font-size:10px;color:#000;font-weight:normal;transform:scale(0.9745,1.0000);z-index:2">3 Oct 2018</div>
<div class="t k" style="left:71.70px;top:619.00px;font-size:10px;color:#000;font-weight:normal;transform:scale(0.9434,1.0000);z-index:2">12 Oct 2018</div>
<div class="t k" style="left:136.90px;top:619.00px;font-size:10px;color:#000;font-weight:normal;transform:scale(0.9589,1.0000);z-index:2">22 Oct 2018</div>
<div class="t k" style="left:199.90px;top:619.00px;font-size:10px;color:#000;font-weight:normal;transform:scale(0.9589,1.0000);z-index:2">31 Oct 2018</div>
<div class="t k" style="left:263.90px;top:619.00px;font-size:10px;color:#000;font-weight:normal;transform:scale(0.9589,1.0000);z-index:2">9 Nov 2018</div>
<div class="t k" style="left:327.90px;top:619.00px;font-size:10px;color:#000;font-weight:normal;transform:scale(0.9589,1.0000);z-index:2">19 Nov 2018</div>
<div class="t k" style="left:392.90px;top:619.00px;font-size:10px;color:#000;font-weight:normal;transform:scale(0.9589,1.0000);z-index:2">28 Nov 2018</div>
<div class="t k" style="left:455.90px;top:619.00px;font-size:10px;color:#000;font-weight:normal;transform:scale(0.9589,1.0000);z-index:2">7 Dec 2018</div>
<div class="t k" style="left:519.90px;top:619.00px;font-size:10px;color:#000;font-weight:normal;transform:scale(0.9589,1.0000);z-index:2">17 Dec 2018</div>
<div class="t k" style="left:584.90px;top:619.00px;font-size:10px;color:#000;font-weight:normal;transform:scale(0.9589,1.0000);z-index:2">26 Dec 2018</div>
<div class="t k" style="left:648.90px;top:619.00px;font-size:10px;color:#000;font-weight:normal;transform:scale(0.9589,1.0000);z-index:2">4 Jan 2019</div>
<div class="t k" style="left:711.90px;top:619.00px;font-size:10px;color:#000;font-weight:normal;transform:scale(0.9589,1.0000);z-index:2">14 Jan 2019</div>
<div class="t k" style="left:776.90px;top:619.00px;font-size:10px;color:#000;font-weight:normal;transform:scale(0.9589,1.0000);z-index:2">23 Jan 2019</div>
<div class="t k" style="left:839.90px;top:619.00px;font-size:10px;color:#000;font-weight:normal;transform:scale(0.9589,1.0000);z-index:2">1 Feb 2019</div>
<div class="t k" style="left:903.90px;top:619.00px;font-size:10px;color:#000;font-weight:normal;transform:scale(0.9589,1.0000);z-index:2">11 Feb 2019</div>
<div class="t" style="left:21.80px;top:640.00px;font-size:12px;color:#000;font-weight:normal;transform:scale(0.9863,1.0000);z-index:2">EURUSD,Daily</div>
<div class="t" style="left:125.00px;top:640.00px;font-size:12px;color:#6d6d6d;font-weight:normal;transform:scale(1.0123,1.0000);z-index:2">AUDUSD,Daily</div>
<div class="t" style="left:227.00px;top:640.00px;font-size:12px;color:#6d6d6d;font-weight:normal;transform:scale(1.0152,1.0000);z-index:2">USDCHF,H4</div>
<div class="t" style="left:316.00px;top:640.00px;font-size:12px;color:#6d6d6d;font-weight:normal;transform:scale(1.0113,1.0000);z-index:2">USDCAD,Daily</div>
<div class="t" style="left:419.40px;top:640.00px;font-size:12px;color:#6d6d6d;font-weight:normal;transform:scale(1.0288,1.0000);z-index:2">USDCNH,Daily</div>
<div class="t" style="left:523.60px;top:640.00px;font-size:12px;color:#6d6d6d;font-weight:normal;transform:scale(0.9810,1.0000);z-index:2">USDJPY,H1</div>
<div class="t" style="left:608.30px;top:640.00px;font-size:12px;color:#6d6d6d;font-weight:normal;transform:scale(1.0119,1.0000);z-index:2">XAUUSD,H1</div>
<div class="t" style="left:700.20px;top:640.00px;font-size:12px;color:#6d6d6d;font-weight:normal;transform:scale(1.0152,1.0000);z-index:2">GBPUSD,Weekly</div>
<div class="t" style="left:817.30px;top:640.00px;font-size:12px;color:#6d6d6d;font-weight:normal;transform:scale(1.0328,1.0000);z-index:2">SP500,M15</div>
<div class="t" style="left:905.20px;top:640.00px;font-size:12px;color:#6d6d6d;font-weight:normal;transform:scale(0.9975,1.0000);z-index:2">GBPUSD,Daily</div>
<div class="t" style="left:1007.40px;top:640.00px;font-size:12px;color:#6d6d6d;font-weight:normal;transform:scale(1.0356,1.0000);z-index:2">DJ30,H4</div>
<div class="t" style="left:1076.40px;top:640.00px;font-size:12px;color:#6d6d6d;font-weight:normal;transform:scale(0.9831,1.0000);z-index:2">TECH100,H1</div>
<div class="t" style="left:23.80px;top:57.00px;font-size:12px;color:#fff;font-weight:normal;transform:scale(0.8929,1.0000);z-index:2">SELL</div>
<div class="t" style="left:191.30px;top:56.50px;font-size:12px;color:#fff;font-weight:normal;transform:scale(1.0261,1.0000);z-index:2">BUY</div>
<div class="t k" style="left:128.60px;top:56.00px;font-size:12px;color:#000;font-weight:normal;transform:scale(0.9957,1.0000);z-index:2">0.01</div>
<div class="t" style="left:31.50px;top:96.00px;font-size:12px;color:#fff;font-weight:bold;transform:scale(1.0682,1.1250);z-index:2">1.12</div>
<div class="t thin" style="left:58.30px;top:77.00px;font-size:35px;color:#fff;font-weight:normal;transform:scale(0.9629,1.0417);z-index:2">79</div>
<div class="t" style="left:98.70px;top:84.40px;font-size:10px;color:#fff;font-weight:bold;transform:scale(1.1600,1.0000);z-index:2">3</div>
<div class="t" style="left:141.50px;top:96.00px;font-size:12px;color:#fff;font-weight:bold;transform:scale(1.0727,1.1250);z-index:2">1.12</div>
<div class="t thin" style="left:170.90px;top:77.00px;font-size:35px;color:#fff;font-weight:normal;transform:scale(0.9400,1.0417);z-index:2">81</div>
<div class="t" style="left:210.10px;top:82.30px;font-size:10px;color:#fff;font-weight:bold;transform:scale(1.3400,1.0000);z-index:2">2</div>
<div class="t k" style="left:1164.60px;top:376.00px;font-size:10px;color:#fff;font-weight:normal;transform:scale(0.9286,1.0000);z-index:4">1.12793</div>
<div style="position:absolute;left:1161px;top:374px;width:41px;height:11px;background:#000;z-index:3"></div>
</body></html>
